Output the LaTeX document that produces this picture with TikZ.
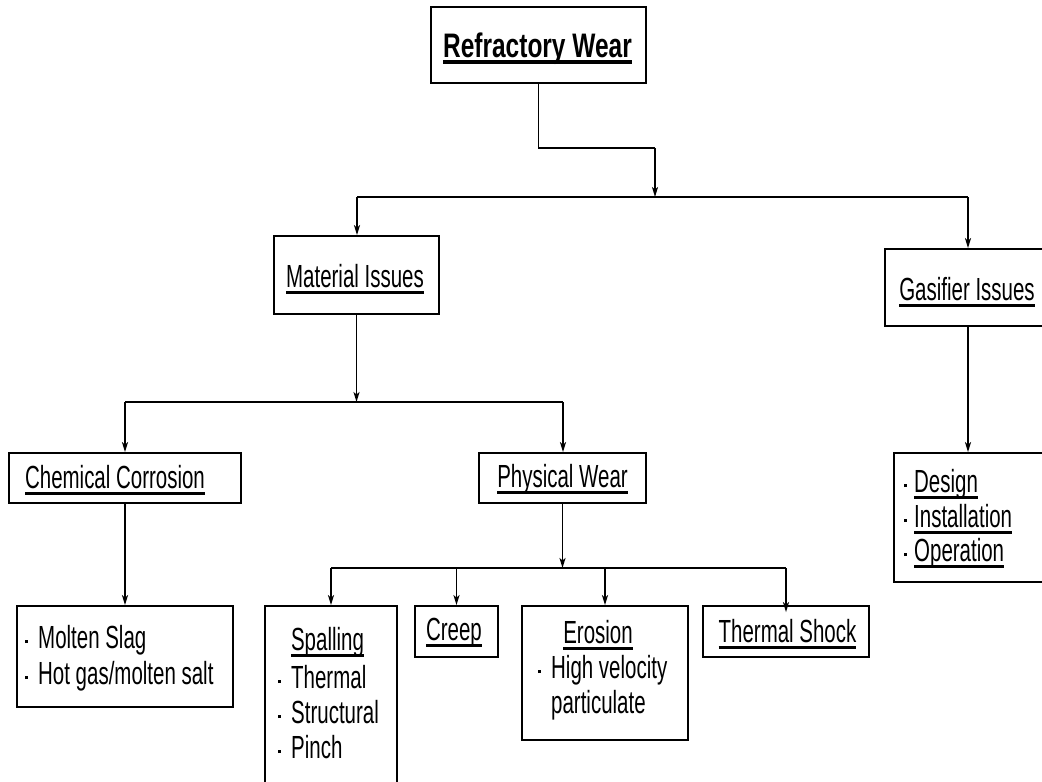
\documentclass[tikz,border=0pt]{standalone}
\usepackage{fontspec}
\setmainfont{Liberation Sans}[FakeStretch=0.64]
\newfontfamily\rwfont{Liberation Sans Bold}[FakeStretch=0.72]
\usetikzlibrary{arrows.meta}
\newsavebox\ulbox
\newcommand\ulx[2][3.2pt]{\sbox\ulbox{#2}\rlap{\rule[-7pt]{\wd\ulbox}{#1}}\usebox\ulbox}
\newcommand\bul[1][14pt]{\makebox[#1][l]{\hspace{1pt}\rule[5pt]{3pt}{3pt}}}
\tikzset{
  box/.style={draw, line width=1.8pt, inner sep=0pt},
  txt/.style={font=\fontsize{32}{38}\selectfont, inner sep=0pt, anchor=base},
  ltxt/.style={font=\fontsize{32}{38}\selectfont, inner sep=0pt, anchor=base west},
  ln/.style={line width=1.6pt},
  arr/.style={line width=1.6pt, -{Stealth[length=10pt,width=6pt,inset=2.5pt]}}
}
\begin{document}
\begin{tikzpicture}[x=1pt,y=-1pt]
\fill[white] (0,0) rectangle (1042,782);
\useasboundingbox (0,0) rectangle (1042,782);
% boxes
\node[box, minimum width=215pt, minimum height=76pt] (rw) at (538.5,45) {};
\node[box, minimum width=165pt, minimum height=78pt] (mat) at (356.5,275) {};
\node[box, minimum width=166pt, minimum height=77pt] (gas) at (968,287.5) {};
\node[box, minimum width=232pt, minimum height=50pt] (chem) at (125,478) {};
\node[box, minimum width=167pt, minimum height=50pt] (phys) at (562.5,478) {};
\node[box, minimum width=216pt, minimum height=101pt] (mol) at (125,656.5) {};
\node[box, minimum width=160pt, minimum height=129pt] (des) at (974,517.5) {};
\node[box, minimum width=132pt, minimum height=194pt] (spal) at (331,703) {};
\node[box, minimum width=83pt, minimum height=51pt] (creep) at (456.5,631.5) {};
\node[box, minimum width=166pt, minimum height=134pt] (eros) at (605,673) {};
\node[box, minimum width=166pt, minimum height=51pt] (ts) at (786,631.5) {};
% texts
\node[txt, font=\fontsize{34}{40}\selectfont\rwfont] (rwt) at (537.5,57) {\ulx[3.8pt]{Refractory Wear}};
\node[txt] (matt) at (355,287) {\ulx{Material Issues}};
\node[txt] (gast) at (967,300) {\ulx{Gasifier Issues}};
\node[txt] (chemt) at (115,488) {\ulx{Chemical Corrosion}};
\node[txt] (physt) at (562.5,487) {\ulx{Physical Wear}};
\node[ltxt] (mol1) at (24,648) {\bul Molten Slag};
\node[ltxt] (mol2) at (24,684) {\bul Hot gas/molten salt};
\node[txt] (spt) at (327.5,650) {\ulx{Spalling}};
\node[ltxt] (sp1) at (277,688) {\bul Thermal};
\node[ltxt] (sp2) at (277,723) {\bul Structural};
\node[ltxt] (sp3) at (277,758) {\bul Pinch};
\node[txt] (crt) at (454,640) {\ulx{Creep}};
\node[txt] (ert) at (598,643) {\ulx{Erosion}};
\node[ltxt] (er1) at (537,678) {\bul High velocity};
\node[ltxt] (er2) at (551,713) {particulate};
\node[txt] (tst) at (787.5,642) {\ulx{Thermal Shock}};
\node[ltxt] (de1) at (903,492) {\bul[11pt]\ulx{Design}};
\node[ltxt] (de2) at (903,527) {\bul[11pt]\ulx{Installation}};
\node[ltxt] (de3) at (903,561) {\bul[11pt]\ulx{Operation}};
% connectors level 1
\coordinate (k1) at (655,148);
\coordinate (b1) at (655,197);
\coordinate (b1l) at (357,197);
\coordinate (b1r) at (968,197);
\draw[ln] (rw.south) |- (k1);
\draw[arr] (k1) -- (b1);
\draw[ln] (b1l) -- (b1r);
\draw[arr] (b1l) -- (b1l |- mat.north);
\draw[arr] (b1r) -- (b1r |- gas.north);
% level 2
\coordinate (b2) at (356.5,402);
\coordinate (b2l) at (125,402);
\coordinate (b2r) at (563,402);
\draw[arr] (mat.south) -- (b2);
\draw[ln] (b2l) -- (b2r);
\draw[arr] (b2l) -- (chem.north);
\draw[arr] (b2r) -- (b2r |- phys.north);
\draw[arr] (chem.south) -- (mol.north);
\draw[arr] (gas.south) -- (gas.south |- des.north);
% level 3
\coordinate (b3) at (562.5,568);
\coordinate (b3l) at (331,568);
\coordinate (b3r) at (786,568);
\draw[arr] (phys.south) -- (b3);
\draw[ln] (b3l) -- (b3r);
\draw[arr] (b3l) -- (spal.north);
\draw[arr] (b3l -| creep.north) -- (creep.north);
\draw[arr] (b3l -| eros.north) -- (eros.north);
\draw[arr] (b3r) -- ([yshift=-7pt]ts.north);
\end{tikzpicture}
\end{document}
